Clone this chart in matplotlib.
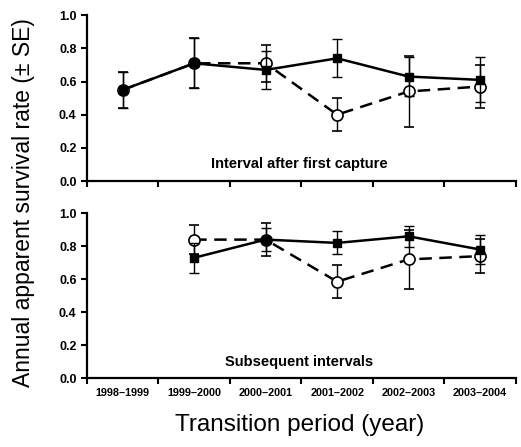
import numpy as np
import matplotlib.pyplot as plt

plt.rcParams['font.family'] = ['Liberation Sans', 'DejaVu Sans']

periods = ["1998\u20131999", "1999\u20132000", "2000\u20132001",
           "2001\u20132002", "2002\u20132003", "2003\u20132004"]

# top panel: interval after first capture
top_solid = [0.55, 0.71, 0.67, 0.74, 0.63, 0.61]
top_solid_se = [0.11, 0.15, 0.115, 0.115, 0.12, 0.135]
top_dashed = [0.55, 0.71, 0.71, 0.40, 0.54, 0.57]
top_dashed_se = [0.11, 0.15, 0.11, 0.10, 0.215, 0.13]

# bottom panel: subsequent intervals (no estimate for 1998-1999)
bot_solid = [np.nan, 0.73, 0.84, 0.82, 0.86, 0.78]
bot_solid_se = [np.nan, 0.09, 0.07, 0.07, 0.065, 0.09]
bot_dashed = [np.nan, 0.84, 0.84, 0.585, 0.72, 0.74]
bot_dashed_se = [np.nan, 0.09, 0.10, 0.10, 0.18, 0.105]

panel_titles = ["Interval after first capture", "Subsequent intervals"]


def draw_panel(ax, solid, solid_se, dashed, dashed_se, title, show_labels):
    x = np.arange(len(periods))
    ax.errorbar(x, dashed, yerr=dashed_se, color='black', ls=(0, (5, 3)), lw=1.8,
                marker='o', ms=8, mfc='white', mec='black', mew=1.2,
                ecolor='black', elinewidth=1, capsize=3.5, capthick=1, zorder=2)
    ax.errorbar(x, solid, yerr=solid_se, color='black', ls='-', lw=1.8,
                marker='s', ms=6, mfc='black', mec='black',
                ecolor='black', elinewidth=1, capsize=3.5, capthick=1, zorder=3)
    ax.set_xlim(-0.5, len(periods) - 0.5)
    ax.set_ylim(0, 1.0)
    ax.set_yticks(np.arange(0, 1.01, 0.2))
    ax.set_yticklabels([f"{v:.1f}" for v in np.arange(0, 1.01, 0.2)],
                       fontsize=9, fontweight='bold')
    ax.set_xticks(np.arange(len(periods) + 1) - 0.5)
    ax.set_xticklabels([])
    ax.set_xticks(x, minor=True)
    if show_labels:
        ax.set_xticklabels(periods, minor=True, fontsize=7.8, fontweight='bold')
    else:
        ax.set_xticklabels([], minor=True)
    ax.tick_params(axis='x', which='minor', length=0, pad=7)
    ax.tick_params(axis='both', which='major', direction='out', length=4, width=1.5)
    for s in ['top', 'right']:
        ax.spines[s].set_visible(False)
    for s in ['left', 'bottom']:
        ax.spines[s].set_linewidth(1.6)
    ax.text(2.47, 0.1, title, ha='center', va='center', fontsize=10.5, fontweight='bold')


fig = plt.figure(figsize=(5.21, 4.47), dpi=100)
ax1 = fig.add_axes([0.167, 0.595, 0.823, 0.371])
ax2 = fig.add_axes([0.167, 0.154, 0.823, 0.369])

draw_panel(ax1, top_solid, top_solid_se, top_dashed, top_dashed_se, panel_titles[0], False)
draw_panel(ax2, bot_solid, bot_solid_se, bot_dashed, bot_dashed_se, panel_titles[1], True)

fig.text(0.045, 0.546, "Annual apparent survival rate (\u00b1 SE)", rotation=90,
         ha='center', va='center', fontsize=16.5)
fig.text(0.575, 0.05, "Transition period (year)", ha='center', va='center', fontsize=17.5)

fig.savefig('out.png', dpi=100)
